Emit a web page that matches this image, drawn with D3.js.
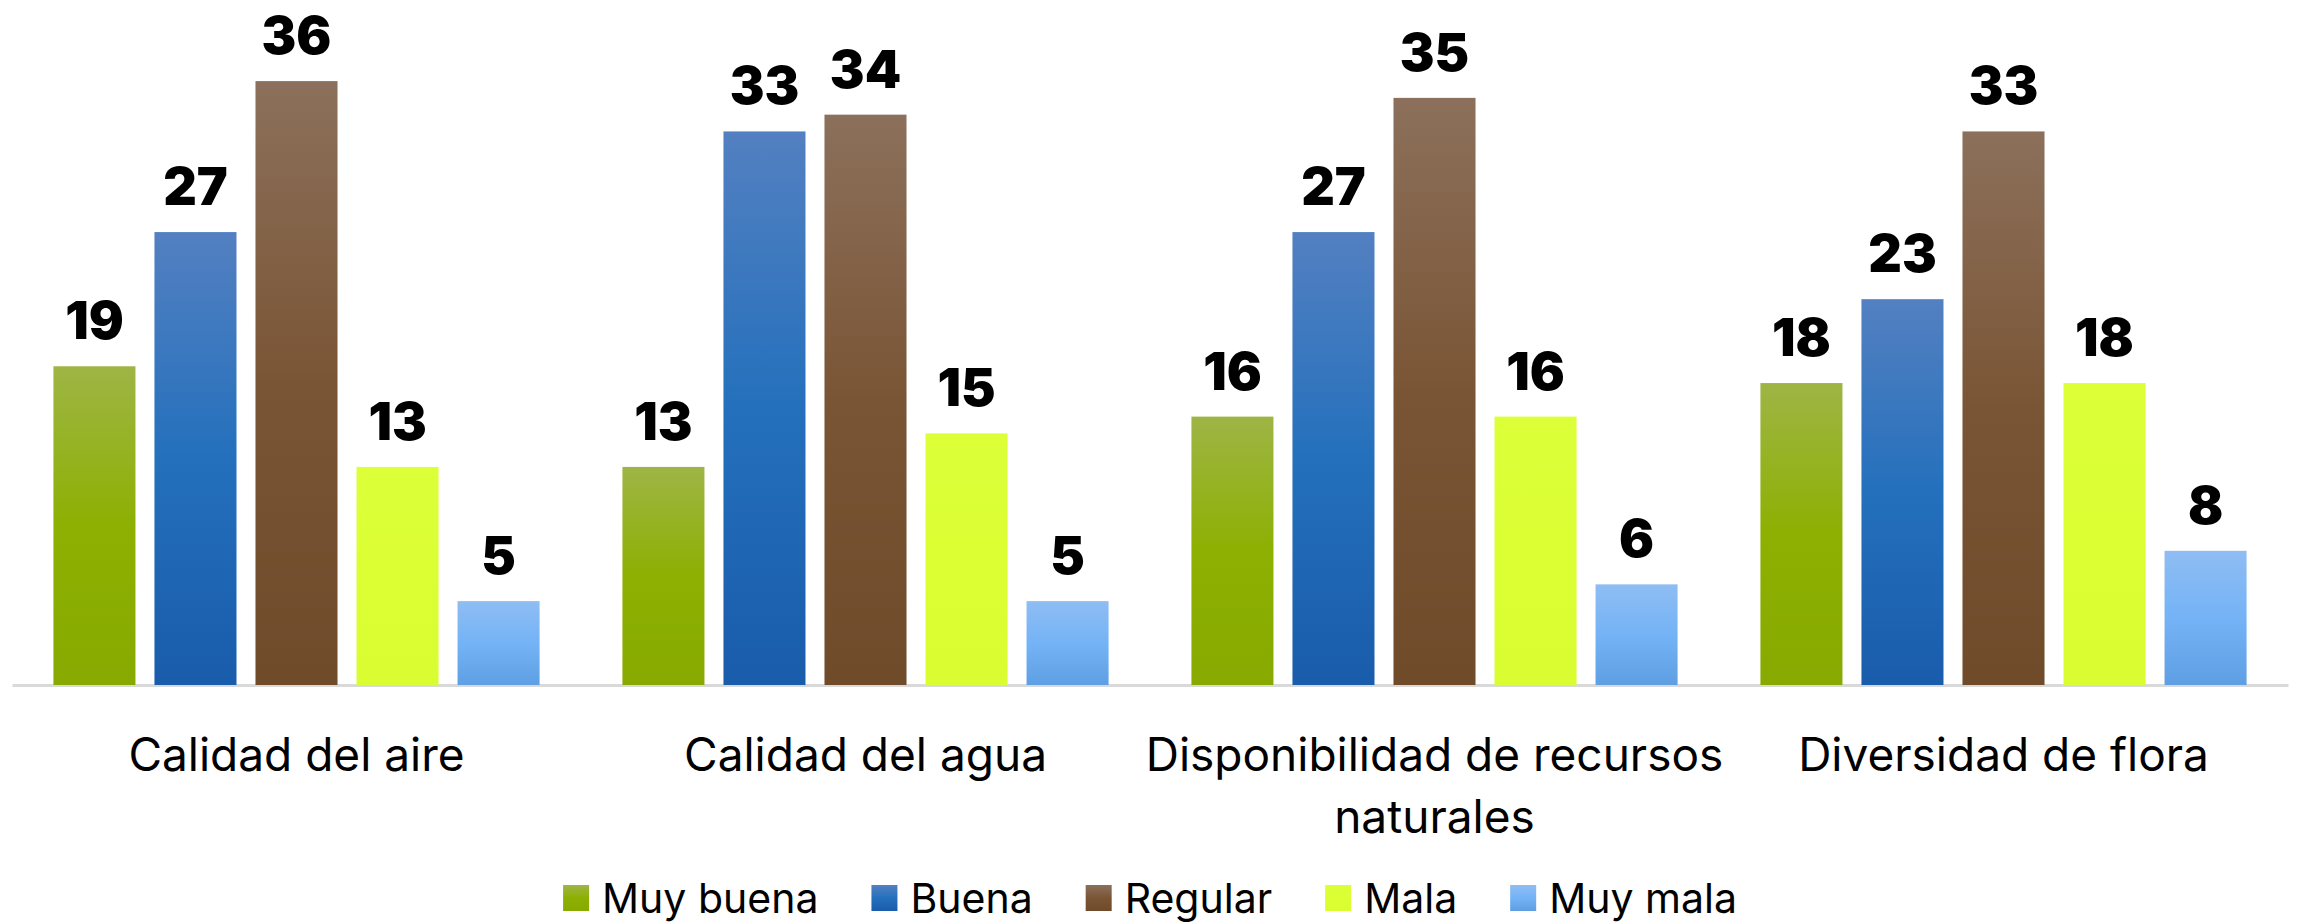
<!DOCTYPE html>
<html>
<head>
<meta charset="utf-8">
<script src="https://cdn.jsdelivr.net/npm/d3@7"></script>
<style>
  body { margin: 0; background: #fff; }
  svg { display: block; font-family: Inter, "Open Sans", sans-serif; }
</style>
</head>
<body>
<svg id="chart" width="2300" height="922"></svg>
<script>
'use strict'

const categories = ['Calidad del aire', 'Calidad del agua', 'Disponibilidad de recursos naturales', 'Diversidad de flora']
const series = ['Muy buena', 'Buena', 'Regular', 'Mala', 'Muy mala']
const muyBuena = [19, 13, 16, 18]
const buena = [27, 33, 27, 23]
const regular = [36, 34, 35, 33]
const mala = [13, 15, 16, 18]
const muyMala = [5, 5, 6, 8]
const yTicks = [0, 40]

const values = [muyBuena, buena, regular, mala, muyMala]

// gradient stops per series, top -> bottom
const fills = [
  ['#9eb545', '#8db002', '#88aa00'],
  ['#5380c1', '#2470bc', '#195cab'],
  ['#8c705b', '#7a5535', '#704b2a'],
  ['#dcff38', '#dbff33', '#d9fd30'],
  ['#8fbdf3', '#74b3f6', '#5e9ee2']
]

const svg = d3.select('#chart')
const width = 2300
const margin = {left: 12, right: 12, top: 14}
const baseY = 685

const x0 = d3.scaleBand()
  .domain(categories)
  .range([margin.left, width - margin.right])

const x1 = d3.scaleBand()
  .domain(series)
  .range([0, x0.bandwidth()])
  .paddingInner(0.188)
  .paddingOuter(0.41)

const y = d3.scaleLinear()
  .domain(d3.extent(yTicks))
  .range([baseY, margin.top])

const defs = svg.append('defs')
series.forEach(function (s, i) {
  const g = defs.append('linearGradient')
    .attr('id', 'grad' + i)
    .attr('x1', 0).attr('y1', 0).attr('x2', 0).attr('y2', 1)
  g.selectAll('stop')
    .data(fills[i])
    .join('stop')
    .attr('offset', (d, k) => k / (fills[i].length - 1))
    .attr('stop-color', d => d)
})

const rows = []
categories.forEach(function (c, ci) {
  series.forEach(function (s, si) {
    rows.push({cat: c, ser: s, si: si, value: values[si][ci]})
  })
})

// axis
const axis = svg.append('g')
  .attr('transform', `translate(0,${baseY})`)
  .call(d3.axisBottom(x0).tickSize(0).tickPadding(0))

axis.select('.domain')
  .attr('stroke', '#d9d9d9')
  .attr('stroke-width', 3)

axis.selectAll('.tick text')
  .attr('fill', '#000')
  .attr('font-size', 46)
  .attr('font-family', 'Inter, sans-serif')
  .attr('y', 86)
  .attr('dy', 0)
  .call(wrap, x0.bandwidth() + 20)

function wrap (text, w) {
  text.each(function () {
    const t = d3.select(this)
    const words = t.text().split(/\s+/)
    const yy = t.attr('y')
    let line = []
    let lineNo = 0
    t.text(null)
    let tspan = t.append('tspan').attr('x', 0).attr('y', yy)
    words.forEach(function (word) {
      line.push(word)
      tspan.text(line.join(' '))
      if (tspan.node().getComputedTextLength() > w && line.length > 1) {
        line.pop()
        tspan.text(line.join(' '))
        line = [word]
        lineNo++
        tspan = t.append('tspan').attr('x', 0).attr('y', +yy + lineNo * 62).text(word)
      }
    })
  })
}

// bars
const groups = svg.append('g')
  .selectAll('g')
  .data(rows)
  .join('g')
  .attr('transform', d => `translate(${x0(d.cat)},0)`)

groups.append('rect')
  .attr('x', d => x1(d.ser))
  .attr('y', d => y(d.value))
  .attr('width', x1.bandwidth())
  .attr('height', d => baseY - y(d.value))
  .attr('fill', d => `url(#grad${d.si})`)

groups.append('text')
  .attr('x', d => x1(d.ser) + x1.bandwidth() / 2)
  .attr('y', d => y(d.value) - 27)
  .attr('text-anchor', 'middle')
  .attr('font-size', 52)
  .attr('font-weight', 900)
  .attr('fill', '#000')
  .text(d => d.value)

// legend
const legend = svg.append('g')
const legendY = 898
const sw = 26
let lx = 0
series.forEach(function (s, i) {
  const item = legend.append('g').attr('transform', `translate(${lx},0)`)
  item.append('rect')
    .attr('x', 0)
    .attr('y', legendY - sw / 2)
    .attr('width', sw)
    .attr('height', sw)
    .attr('fill', `url(#grad${i})`)
  const t = item.append('text')
    .attr('x', sw + 13)
    .attr('y', legendY)
    .attr('dy', '0.36em')
    .attr('font-size', 41)
    .attr('fill', '#000')
    .text(s)
  lx += sw + 13 + t.node().getComputedTextLength() + 53
})
lx -= 53
legend.attr('transform', `translate(${(width - lx) / 2},0)`)
</script>
</body>
</html>
